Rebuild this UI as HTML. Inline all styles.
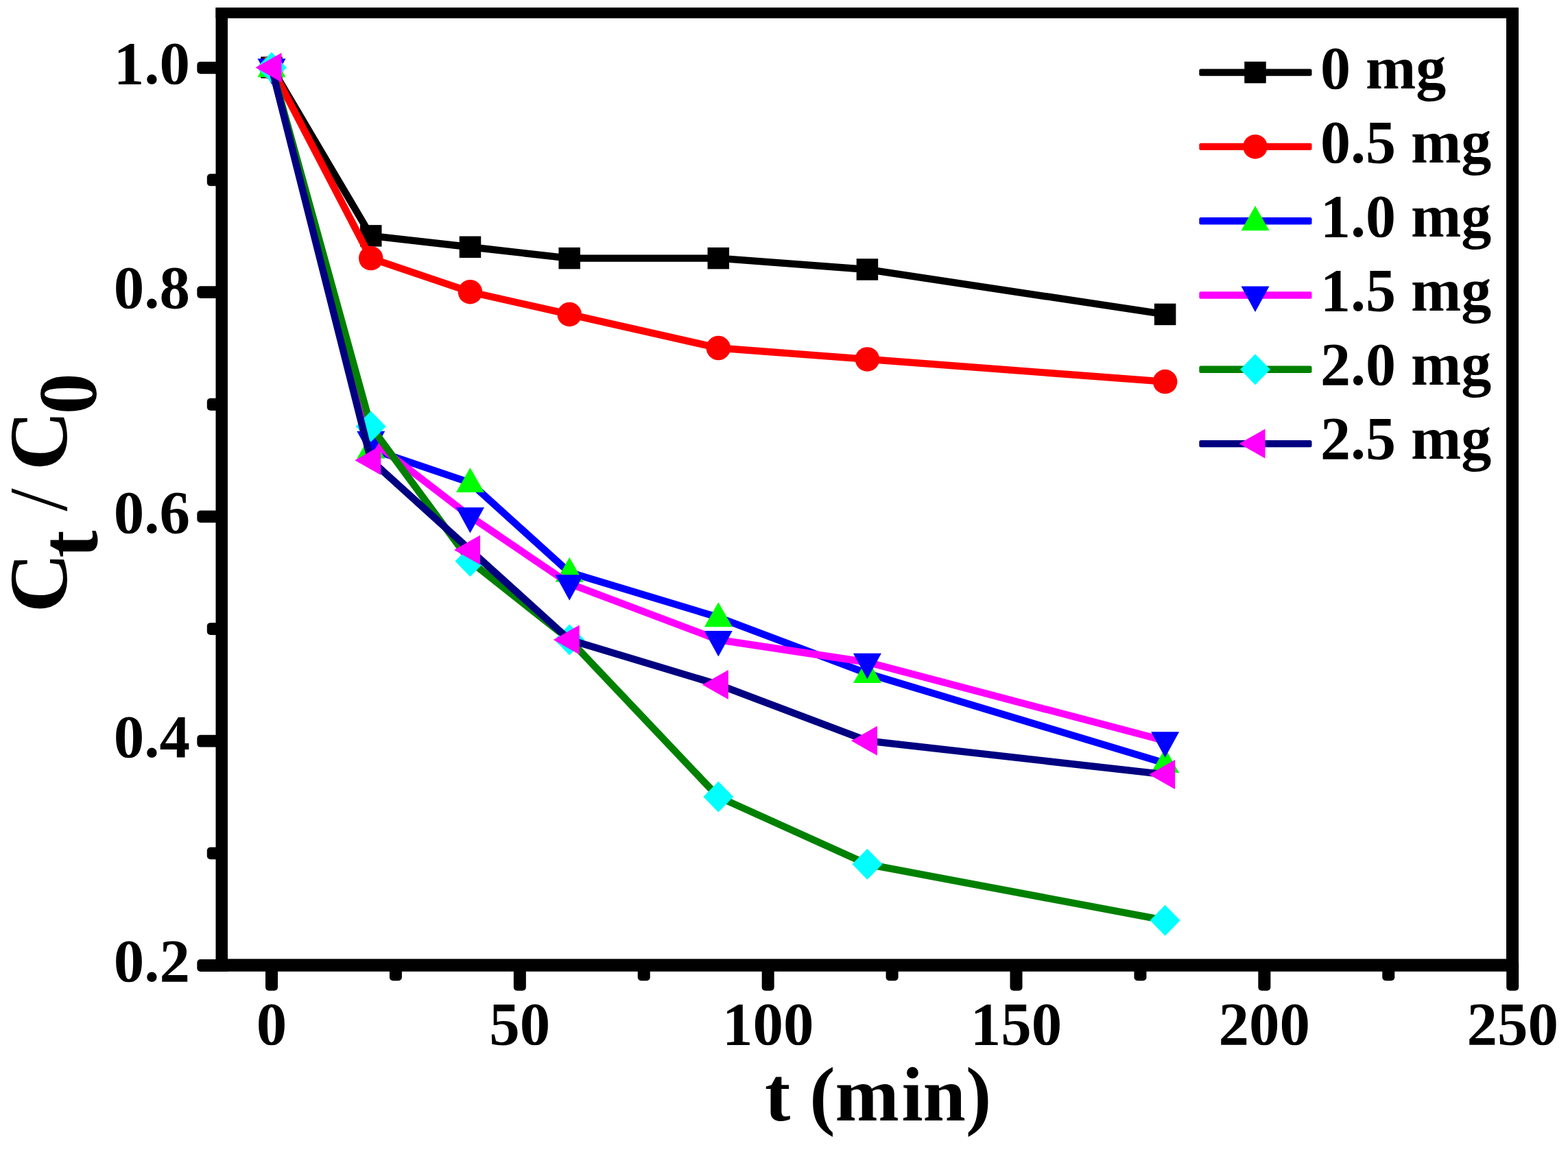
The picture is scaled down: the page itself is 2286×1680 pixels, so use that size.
<!DOCTYPE html>
<html><head><meta charset="utf-8"><title>Ct/C0 vs t</title>
<style>
html,body{margin:0;padding:0;background:#fff;overflow:hidden;}
svg{display:block;}
text{font-family:"Liberation Serif","Times New Roman",serif;font-weight:bold;fill:#000;}
</style></head>
<body>
<svg width="2286" height="1680" viewBox="0 0 2286 1680">
<rect width="2286" height="1680" fill="#fff"/>
<polyline points="396.00,98.40 540.74,343.88 685.47,360.24 830.21,376.61 1047.31,376.61 1264.42,392.97 1698.62,458.43" fill="none" stroke="#000000" stroke-width="10.4" stroke-linejoin="round" stroke-linecap="round"/>
<rect x="380.25" y="82.65" width="31.5" height="31.5" fill="#000000"/>
<rect x="524.99" y="328.12" width="31.5" height="31.5" fill="#000000"/>
<rect x="669.72" y="344.49" width="31.5" height="31.5" fill="#000000"/>
<rect x="814.46" y="360.86" width="31.5" height="31.5" fill="#000000"/>
<rect x="1031.56" y="360.86" width="31.5" height="31.5" fill="#000000"/>
<rect x="1248.67" y="377.22" width="31.5" height="31.5" fill="#000000"/>
<rect x="1682.87" y="442.68" width="31.5" height="31.5" fill="#000000"/>
<polyline points="396.00,98.40 540.74,376.61 685.47,425.70 830.21,458.43 1047.31,507.52 1264.42,523.89 1698.62,556.62" fill="none" stroke="#FF0000" stroke-width="10.4" stroke-linejoin="round" stroke-linecap="round"/>
<circle cx="396.00" cy="98.40" r="17.75" fill="#FF0000"/>
<circle cx="540.74" cy="376.61" r="17.75" fill="#FF0000"/>
<circle cx="685.47" cy="425.70" r="17.75" fill="#FF0000"/>
<circle cx="830.21" cy="458.43" r="17.75" fill="#FF0000"/>
<circle cx="1047.31" cy="507.52" r="17.75" fill="#FF0000"/>
<circle cx="1264.42" cy="523.89" r="17.75" fill="#FF0000"/>
<circle cx="1698.62" cy="556.62" r="17.75" fill="#FF0000"/>
<polyline points="396.00,98.40 540.74,654.81 685.47,703.90 830.21,834.82 1047.31,900.28 1264.42,982.11 1698.62,1113.03" fill="none" stroke="#0000FF" stroke-width="10.4" stroke-linejoin="round" stroke-linecap="round"/>
<polygon points="396.00,76.40 416.50,112.40 375.50,112.40" fill="#00FF00"/>
<polygon points="540.74,632.81 561.24,668.81 520.24,668.81" fill="#00FF00"/>
<polygon points="685.47,681.90 705.97,717.90 664.97,717.90" fill="#00FF00"/>
<polygon points="830.21,812.82 850.71,848.82 809.71,848.82" fill="#00FF00"/>
<polygon points="1047.31,878.28 1067.81,914.28 1026.81,914.28" fill="#00FF00"/>
<polygon points="1264.42,960.11 1284.92,996.11 1243.92,996.11" fill="#00FF00"/>
<polygon points="1698.62,1091.03 1719.12,1127.03 1678.12,1127.03" fill="#00FF00"/>
<polyline points="396.00,98.40 540.74,641.72 685.47,753.00 830.21,851.19 1047.31,933.01 1264.42,965.74 1698.62,1080.30" fill="none" stroke="#FF00FF" stroke-width="10.4" stroke-linejoin="round" stroke-linecap="round"/>
<polygon points="396.00,122.90 416.50,85.40 375.50,85.40" fill="#0000FF"/>
<polygon points="540.74,666.22 561.24,628.72 520.24,628.72" fill="#0000FF"/>
<polygon points="685.47,777.50 705.97,740.00 664.97,740.00" fill="#0000FF"/>
<polygon points="830.21,875.69 850.71,838.19 809.71,838.19" fill="#0000FF"/>
<polygon points="1047.31,957.51 1067.81,920.01 1026.81,920.01" fill="#0000FF"/>
<polygon points="1264.42,990.24 1284.92,952.74 1243.92,952.74" fill="#0000FF"/>
<polygon points="1698.62,1104.80 1719.12,1067.30 1678.12,1067.30" fill="#0000FF"/>
<polyline points="396.00,98.40 540.74,622.08 685.47,818.46 830.21,933.01 1047.31,1162.12 1264.42,1260.32 1698.62,1342.14" fill="none" stroke="#008000" stroke-width="10.4" stroke-linejoin="round" stroke-linecap="round"/>
<polygon points="396.00,75.90 418.00,98.40 396.00,120.90 374.00,98.40" fill="#00FFFF"/>
<polygon points="540.74,599.58 562.74,622.08 540.74,644.58 518.74,622.08" fill="#00FFFF"/>
<polygon points="685.47,795.96 707.47,818.46 685.47,840.96 663.47,818.46" fill="#00FFFF"/>
<polygon points="830.21,910.51 852.21,933.01 830.21,955.51 808.21,933.01" fill="#00FFFF"/>
<polygon points="1047.31,1139.62 1069.31,1162.12 1047.31,1184.62 1025.31,1162.12" fill="#00FFFF"/>
<polygon points="1264.42,1237.82 1286.42,1260.32 1264.42,1282.82 1242.42,1260.32" fill="#00FFFF"/>
<polygon points="1698.62,1319.64 1720.62,1342.14 1698.62,1364.64 1676.62,1342.14" fill="#00FFFF"/>
<polyline points="396.00,98.40 540.74,671.17 685.47,802.10 830.21,933.01 1047.31,998.47 1264.42,1080.30 1698.62,1129.39" fill="none" stroke="#000080" stroke-width="10.4" stroke-linejoin="round" stroke-linecap="round"/>
<polygon points="372.50,98.40 410.50,76.90 410.50,119.90" fill="#FF00FF"/>
<polygon points="517.24,671.17 555.24,649.67 555.24,692.67" fill="#FF00FF"/>
<polygon points="661.97,802.10 699.97,780.60 699.97,823.60" fill="#FF00FF"/>
<polygon points="806.71,933.01 844.71,911.51 844.71,954.51" fill="#FF00FF"/>
<polygon points="1023.81,998.47 1061.81,976.97 1061.81,1019.97" fill="#FF00FF"/>
<polygon points="1240.92,1080.30 1278.92,1058.80 1278.92,1101.80" fill="#FF00FF"/>
<polygon points="1675.12,1129.39 1713.12,1107.89 1713.12,1150.89" fill="#FF00FF"/>
<rect x="314.5" y="11" width="1899.5" height="15.6" fill="#000"/>
<rect x="314.5" y="11" width="17.5" height="1405.8" fill="#000"/>
<rect x="2196" y="11" width="18" height="1405.8" fill="#000"/>
<rect x="314.5" y="1398.4" width="1899.5" height="18.4" fill="#000"/>
<rect x="387.00" y="1400" width="18" height="44.8" rx="5" fill="#000"/>
<rect x="748.84" y="1400" width="18" height="44.8" rx="5" fill="#000"/>
<rect x="1110.68" y="1400" width="18" height="44.8" rx="5" fill="#000"/>
<rect x="1472.52" y="1400" width="18" height="44.8" rx="5" fill="#000"/>
<rect x="1834.36" y="1400" width="18" height="44.8" rx="5" fill="#000"/>
<rect x="2196.20" y="1400" width="18" height="44.8" rx="5" fill="#000"/>
<rect x="567.92" y="1400" width="18" height="30.3" rx="5" fill="#000"/>
<rect x="929.76" y="1400" width="18" height="30.3" rx="5" fill="#000"/>
<rect x="1291.60" y="1400" width="18" height="30.3" rx="5" fill="#000"/>
<rect x="1653.44" y="1400" width="18" height="30.3" rx="5" fill="#000"/>
<rect x="2015.28" y="1400" width="18" height="30.3" rx="5" fill="#000"/>
<rect x="287.3" y="1399.10" width="40" height="17.8" rx="5" fill="#000"/>
<rect x="287.3" y="1071.80" width="40" height="17.8" rx="5" fill="#000"/>
<rect x="287.3" y="744.50" width="40" height="17.8" rx="5" fill="#000"/>
<rect x="287.3" y="417.20" width="40" height="17.8" rx="5" fill="#000"/>
<rect x="287.3" y="89.90" width="40" height="17.8" rx="5" fill="#000"/>
<rect x="301.8" y="1235.45" width="25" height="17.8" rx="5" fill="#000"/>
<rect x="301.8" y="908.15" width="25" height="17.8" rx="5" fill="#000"/>
<rect x="301.8" y="580.85" width="25" height="17.8" rx="5" fill="#000"/>
<rect x="301.8" y="253.55" width="25" height="17.8" rx="5" fill="#000"/>
<text x="396.00" y="1523" font-size="89" text-anchor="middle">0</text>
<text x="757.84" y="1523" font-size="89" text-anchor="middle">50</text>
<text x="1119.68" y="1523" font-size="89" text-anchor="middle">100</text>
<text x="1481.52" y="1523" font-size="89" text-anchor="middle">150</text>
<text x="1843.36" y="1523" font-size="89" text-anchor="middle">200</text>
<text x="2205.20" y="1523" font-size="89" text-anchor="middle">250</text>
<text x="277" y="1431.20" font-size="89" text-anchor="end">0.2</text>
<text x="277" y="1103.90" font-size="89" text-anchor="end">0.4</text>
<text x="277" y="776.60" font-size="89" text-anchor="end">0.6</text>
<text x="277" y="449.30" font-size="89" text-anchor="end">0.8</text>
<text x="277" y="122.00" font-size="89" text-anchor="end">1.0</text>
<rect x="1748.3" y="100.40" width="164.2" height="10.4" rx="2.5" fill="#000000"/>
<rect x="1814.25" y="89.85" width="31.5" height="31.5" fill="#000000"/>
<text x="1925" y="128.70" font-size="88">0 mg</text>
<rect x="1748.3" y="208.70" width="164.2" height="10.4" rx="2.5" fill="#FF0000"/>
<circle cx="1830.00" cy="213.90" r="17.75" fill="#FF0000"/>
<text x="1925" y="236.80" font-size="88">0.5 mg</text>
<rect x="1748.3" y="317.00" width="164.2" height="10.4" rx="2.5" fill="#0000FF"/>
<polygon points="1830.00,300.20 1850.50,336.20 1809.50,336.20" fill="#00FF00"/>
<text x="1925" y="344.90" font-size="88">1.0 mg</text>
<rect x="1748.3" y="425.30" width="164.2" height="10.4" rx="2.5" fill="#FF00FF"/>
<polygon points="1830.00,455.00 1850.50,417.50 1809.50,417.50" fill="#0000FF"/>
<text x="1925" y="453.00" font-size="88">1.5 mg</text>
<rect x="1748.3" y="533.60" width="164.2" height="10.4" rx="2.5" fill="#008000"/>
<polygon points="1830.00,516.30 1852.00,538.80 1830.00,561.30 1808.00,538.80" fill="#00FFFF"/>
<text x="1925" y="561.10" font-size="88">2.0 mg</text>
<rect x="1748.3" y="641.90" width="164.2" height="10.4" rx="2.5" fill="#000080"/>
<polygon points="1806.50,647.10 1844.50,625.60 1844.50,668.60" fill="#FF00FF"/>
<text x="1925" y="669.20" font-size="88">2.5 mg</text>
<text y="1634" font-size="112"><tspan x="1115">t (m</tspan><tspan x="1314.5">in)</tspan></text>
<text transform="rotate(-90)" font-size="120"><tspan x="-893.25" y="97.4">C</tspan><tspan x="-813.45" y="141">t</tspan><tspan x="-745.55" y="97.4" font-weight="normal">/</tspan><tspan x="-686" y="97.4">C</tspan><tspan x="-604.25" y="140">0</tspan></text>
</svg>
</body></html>
